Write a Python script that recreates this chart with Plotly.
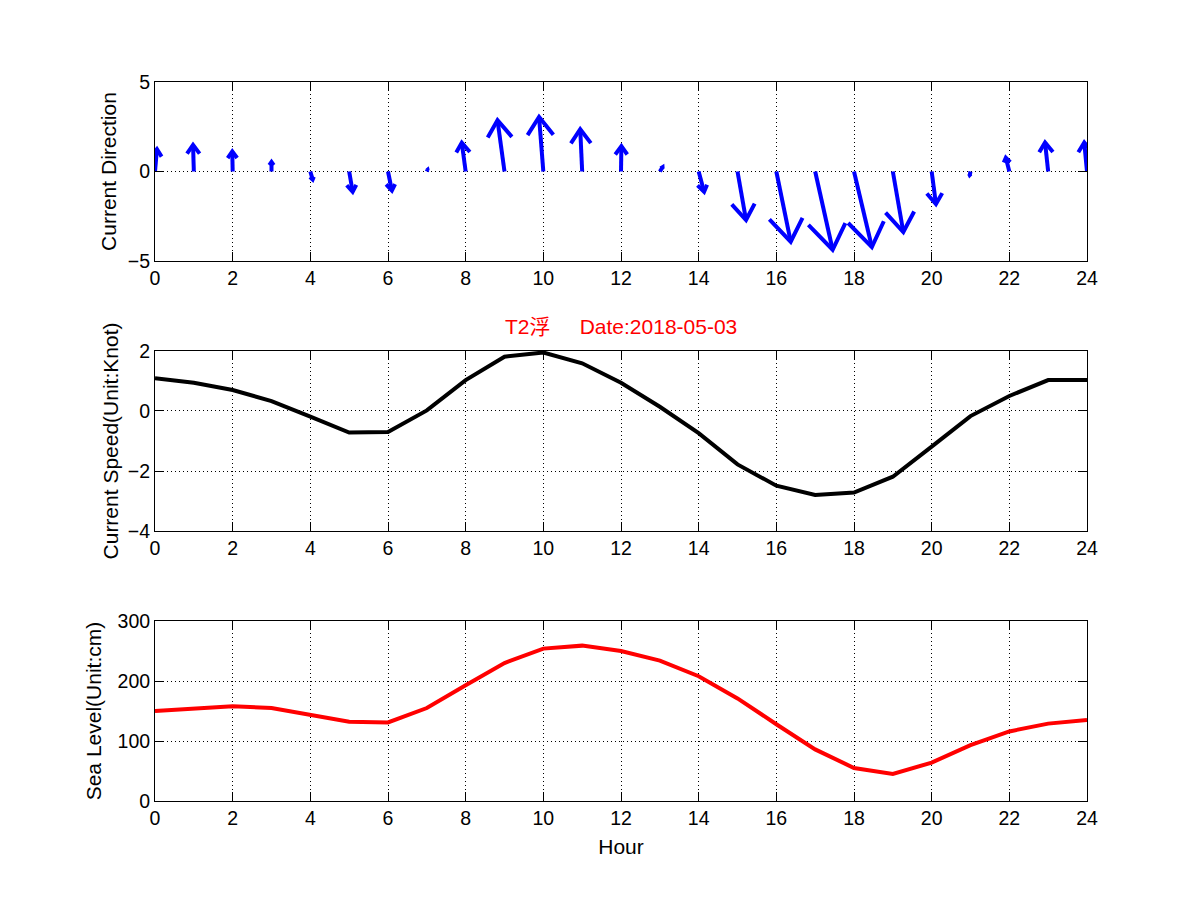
import plotly.graph_objects as go

# 时间 (小时)
hours = list(range(25))

# 流向箭头分量：u 为横向 (小时), v 为纵向 (轴单位)
arrow_u = [0.05, -0.02, -0.01, 0.0, 0.06, 0.09, 0.10, 0.02, -0.10, -0.18, -0.11, -0.05, 0.01,
           0.07, 0.14, 0.22, 0.37, 0.45, 0.46, 0.27, 0.11, -0.02, -0.09, -0.08, -0.07]
arrow_v = [1.25, 1.49, 1.12, 0.53, -0.45, -1.13, -1.06, 0.10, 1.61, 2.86, 3.05, 2.36, 1.42,
           0.24, -1.13, -2.71, -3.92, -4.37, -4.22, -3.38, -1.82, -0.20, 0.77, 1.62, 1.62]

# 流速 (节)
speed = [1.09, 0.94, 0.70, 0.33, -0.19, -0.72, -0.70, 0.02, 1.03, 1.81, 1.95, 1.59, 0.94,
         0.14, -0.74, -1.78, -2.49, -2.80, -2.72, -2.19, -1.19, -0.17, 0.50, 1.03, 1.03]

# 潮位 (cm)
sea_level = [150, 154, 158, 155, 144, 132, 131, 155, 193, 230, 254, 259, 250,
             234, 208, 171, 128, 86, 55, 45, 64, 93, 116, 129, 135]

xticks = list(range(0, 25, 2))

# quiver 箭头 (仿 MATLAB 的箭头画法)
alpha, beta = 0.33, 0.33
qx, qy = [], []
for h, u, v in zip(hours, arrow_u, arrow_v):
    tx, ty = h + u, v
    qx += [h, tx, None,
           tx - alpha * (u + beta * v), tx, tx - alpha * (u - beta * v), None]
    qy += [0, ty, None,
           ty - alpha * (v - beta * u), ty, ty - alpha * (v + beta * u), None]

fig = go.Figure()
fig.add_trace(go.Scatter(x=qx, y=qy, mode='lines', line=dict(color='#0000FF', width=4),
                         xaxis='x', yaxis='y', showlegend=False))
fig.add_trace(go.Scatter(x=hours, y=speed, mode='lines', line=dict(color='black', width=4),
                         xaxis='x2', yaxis='y2', showlegend=False))
fig.add_trace(go.Scatter(x=hours, y=sea_level, mode='lines', line=dict(color='#FF0000', width=4),
                         xaxis='x3', yaxis='y3', showlegend=False))

tick_font = dict(family='Liberation Sans, Arial, sans-serif', size=19.5, color='black')
lab_font = dict(family='Liberation Sans, Arial, sans-serif', size=21, color='black')

common = dict(showline=True, linecolor='black', linewidth=1, mirror='ticks',
              ticks='inside', ticklen=9, tickcolor='black',
              showgrid=True, gridcolor='black', gridwidth=1, griddash='1px,3px',
              zeroline=False, tickfont=tick_font)

xa = dict(common, range=[0, 24], tickvals=xticks)

fig.update_layout(
    width=1185, height=885,
    margin=dict(l=147, r=106, t=74, b=92),
    paper_bgcolor='white', plot_bgcolor='white',
    xaxis=dict(xa, anchor='y'),
    yaxis=dict(common, range=[-5, 5], tickvals=[-5, 0, 5], domain=[0.751, 1.0], anchor='x',
               title=dict(text='Current Direction', font=lab_font, standoff=5)),
    xaxis2=dict(xa, anchor='y2'),
    yaxis2=dict(common, range=[-4, 2], tickvals=[-4, -2, 0, 2], domain=[0.3755, 0.6259], anchor='x2',
                title=dict(text='Current Speed(Unit:Knot)', font=lab_font, standoff=3)),
    xaxis3=dict(xa, anchor='y3', title=dict(text='Hour', font=lab_font, standoff=10)),
    yaxis3=dict(common, range=[0, 300], tickvals=[0, 100, 200, 300], domain=[0, 0.2503], anchor='x3',
                title=dict(text='Sea Level(Unit:cm)', font=lab_font, standoff=10)),
)

fig.add_annotation(text='T2浮\u00a0\u00a0\u00a0\u00a0\u00a0Date:2018-05-03', xref='paper', yref='paper',
                   x=0.5, y=0.6606, xanchor='center', yanchor='middle', showarrow=False,
                   font=dict(family='Liberation Sans, Noto Sans CJK SC, sans-serif', size=21,
                             color='#FF0000'))

fig.write_html("out.html")
